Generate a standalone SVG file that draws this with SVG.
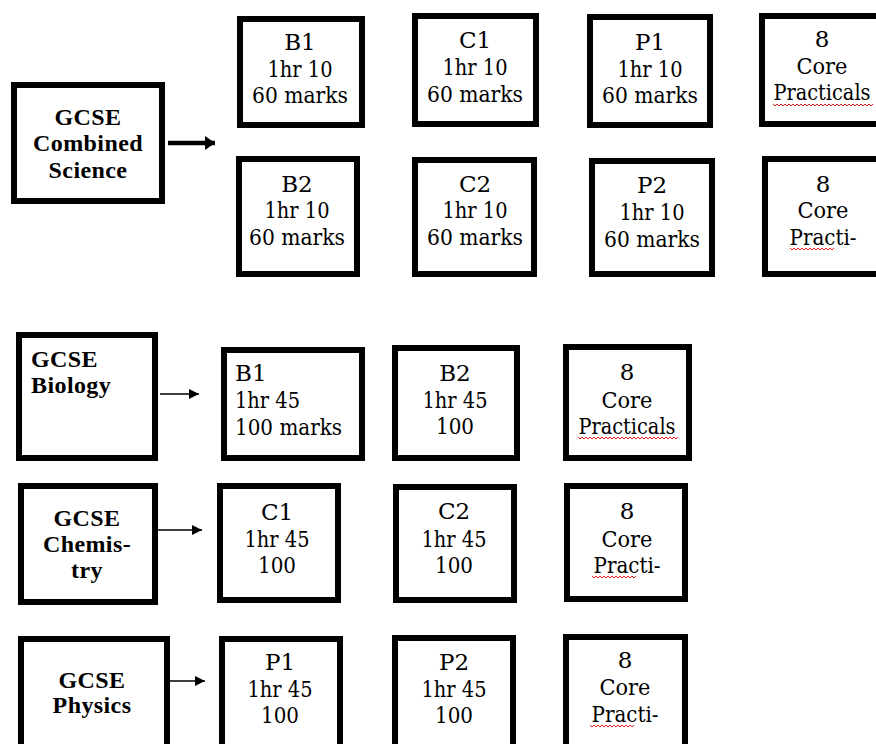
<svg xmlns="http://www.w3.org/2000/svg" width="876" height="744" viewBox="0 0 876 744">
<style>
.box{fill:#fff;stroke:#000;stroke-width:6}
.t{font-family:'DejaVu Serif','Liberation Serif',serif;font-size:23px;text-anchor:middle}
.b{font-family:'Liberation Serif','DejaVu Serif',serif;font-size:24px;font-weight:bold;text-anchor:middle;letter-spacing:0.4px}
.l{text-anchor:start}
.sq{fill:none;stroke:#e02020;stroke-width:1}
.con{stroke:#000;fill:none}
</style>
<defs>
<marker id="ah" viewBox="0 0 10 10" refX="10" refY="5" markerWidth="10" markerHeight="10" markerUnits="userSpaceOnUse" orient="auto"><path d="M0,0 L10,5 L0,10 Z" fill="#000"/></marker>
<marker id="ahb" viewBox="0 0 10 14" refX="10" refY="7" markerWidth="10" markerHeight="14" markerUnits="userSpaceOnUse" orient="auto"><path d="M0,0 L10,7 L0,14 Z" fill="#000"/></marker>
</defs>
<rect width="876" height="744" fill="#fff"/>

<g id="connectors">
<line class="con" x1="168" y1="143" x2="215" y2="143" stroke-width="4.5" marker-end="url(#ahb)"/>
<line class="con" x1="160" y1="394" x2="199" y2="394" stroke-width="1.5" marker-end="url(#ah)"/>
<line class="con" x1="158" y1="530" x2="202" y2="530" stroke-width="1.5" marker-end="url(#ah)"/>
<line class="con" x1="167" y1="681" x2="205" y2="681" stroke-width="1.5" marker-end="url(#ah)"/>
</g>

<g id="combined">
<rect class="box" x="14" y="85" width="148" height="116"/>
<text class="b" x="88" y="125">GCSE</text>
<text class="b" x="88" y="151">Combined</text>
<text class="b" x="88" y="178">Science</text>
</g>

<g id="cs-b1">
<rect class="box" x="240" y="19" width="122" height="106"/>
<text class="t" x="300" y="50">B1</text>
<text class="t" x="300" y="77" textLength="65" lengthAdjust="spacingAndGlyphs">1hr 10</text>
<text class="t" x="300" y="103" textLength="96" lengthAdjust="spacingAndGlyphs">60 marks</text>
</g>
<g id="cs-c1">
<rect class="box" x="415" y="16" width="121" height="108"/>
<text class="t" x="475" y="48">C1</text>
<text class="t" x="475" y="75" textLength="65" lengthAdjust="spacingAndGlyphs">1hr 10</text>
<text class="t" x="475" y="102" textLength="96" lengthAdjust="spacingAndGlyphs">60 marks</text>
</g>
<g id="cs-p1">
<rect class="box" x="590" y="17" width="120" height="108"/>
<text class="t" x="650" y="50">P1</text>
<text class="t" x="650" y="77" textLength="65" lengthAdjust="spacingAndGlyphs">1hr 10</text>
<text class="t" x="650" y="103" textLength="96" lengthAdjust="spacingAndGlyphs">60 marks</text>
</g>
<g id="cs-cp1">
<rect class="box" x="762" y="16" width="130" height="108"/>
<text class="t" x="822" y="47">8</text>
<text class="t" x="822" y="74" textLength="51" lengthAdjust="spacingAndGlyphs">Core</text>
<text class="t" x="822" y="100" textLength="97" lengthAdjust="spacingAndGlyphs">Practicals</text>
<path class="sq" d="M773,104 l2,2 l2,-2 l2,2 l2,-2 l2,2 l2,-2 l2,2 l2,-2 l2,2 l2,-2 l2,2 l2,-2 l2,2 l2,-2 l2,2 l2,-2 l2,2 l2,-2 l2,2 l2,-2 l2,2 l2,-2 l2,2 l2,-2 l2,2 l2,-2 l2,2 l2,-2 l2,2 l2,-2 l2,2 l2,-2 l2,2 l2,-2 l2,2 l2,-2 l2,2 l2,-2 l2,2 l2,-2 l2,2 l2,-2 l2,2 l2,-2 l2,2 l2,-2 l2,2 l2,-2 l2,2 l2,-2"/>
</g>

<g id="cs-b2">
<rect class="box" x="239" y="159" width="118" height="115"/>
<text class="t" x="297" y="192">B2</text>
<text class="t" x="297" y="218" textLength="65" lengthAdjust="spacingAndGlyphs">1hr 10</text>
<text class="t" x="297" y="245" textLength="96" lengthAdjust="spacingAndGlyphs">60 marks</text>
</g>
<g id="cs-c2">
<rect class="box" x="415" y="160" width="119" height="114"/>
<text class="t" x="475" y="192">C2</text>
<text class="t" x="475" y="218" textLength="65" lengthAdjust="spacingAndGlyphs">1hr 10</text>
<text class="t" x="475" y="245" textLength="96" lengthAdjust="spacingAndGlyphs">60 marks</text>
</g>
<g id="cs-p2">
<rect class="box" x="592" y="161" width="120" height="113"/>
<text class="t" x="652" y="193">P2</text>
<text class="t" x="652" y="220" textLength="65" lengthAdjust="spacingAndGlyphs">1hr 10</text>
<text class="t" x="652" y="247" textLength="96" lengthAdjust="spacingAndGlyphs">60 marks</text>
</g>
<g id="cs-cp2">
<rect class="box" x="765" y="159" width="130" height="115"/>
<text class="t" x="823" y="192">8</text>
<text class="t" x="823" y="218" textLength="51" lengthAdjust="spacingAndGlyphs">Core</text>
<text class="t" x="823" y="245" textLength="67" lengthAdjust="spacingAndGlyphs">Practi-</text>
<path class="sq" d="M790,248 l2,2 l2,-2 l2,2 l2,-2 l2,2 l2,-2 l2,2 l2,-2 l2,2 l2,-2 l2,2 l2,-2 l2,2 l2,-2 l2,2 l2,-2 l2,2 l2,-2 l2,2 l2,-2 l2,2 l2,-2"/>
</g>

<g id="biology">
<rect class="box" x="19" y="335" width="136" height="123"/>
<text class="b l" x="31" y="367">GCSE</text>
<text class="b l" x="31" y="393">Biology</text>
</g>
<g id="bio-b1">
<rect class="box" x="224" y="350" width="138" height="108"/>
<text class="t l" x="235" y="381">B1</text>
<text class="t l" x="235" y="408" textLength="65" lengthAdjust="spacingAndGlyphs">1hr 45</text>
<text class="t l" x="235" y="435" textLength="107" lengthAdjust="spacingAndGlyphs">100 marks</text>
</g>
<g id="bio-b2">
<rect class="box" x="395" y="348" width="122" height="110"/>
<text class="t" x="455" y="381">B2</text>
<text class="t" x="455" y="408" textLength="65" lengthAdjust="spacingAndGlyphs">1hr 45</text>
<text class="t" x="455" y="434" textLength="38" lengthAdjust="spacingAndGlyphs">100</text>
</g>
<g id="bio-cp">
<rect class="box" x="566" y="347" width="123" height="111"/>
<text class="t" x="627" y="380">8</text>
<text class="t" x="627" y="408" textLength="51" lengthAdjust="spacingAndGlyphs">Core</text>
<text class="t" x="627" y="434" textLength="97" lengthAdjust="spacingAndGlyphs">Practicals</text>
<path class="sq" d="M578,437 l2,2 l2,-2 l2,2 l2,-2 l2,2 l2,-2 l2,2 l2,-2 l2,2 l2,-2 l2,2 l2,-2 l2,2 l2,-2 l2,2 l2,-2 l2,2 l2,-2 l2,2 l2,-2 l2,2 l2,-2 l2,2 l2,-2 l2,2 l2,-2 l2,2 l2,-2 l2,2 l2,-2 l2,2 l2,-2 l2,2 l2,-2 l2,2 l2,-2 l2,2 l2,-2 l2,2 l2,-2 l2,2 l2,-2 l2,2 l2,-2 l2,2 l2,-2 l2,2 l2,-2 l2,2 l2,-2"/>
</g>

<g id="chemistry">
<rect class="box" x="21" y="486" width="134" height="116"/>
<text class="b" x="87" y="526">GCSE</text>
<text class="b" x="87" y="552">Chemis-</text>
<text class="b" x="87" y="578">try</text>
</g>
<g id="chem-c1">
<rect class="box" x="220" y="486" width="118" height="114"/>
<text class="t" x="277" y="520">C1</text>
<text class="t" x="277" y="547" textLength="65" lengthAdjust="spacingAndGlyphs">1hr 45</text>
<text class="t" x="277" y="573" textLength="38" lengthAdjust="spacingAndGlyphs">100</text>
</g>
<g id="chem-c2">
<rect class="box" x="396" y="487" width="118" height="113"/>
<text class="t" x="454" y="519">C2</text>
<text class="t" x="454" y="547" textLength="65" lengthAdjust="spacingAndGlyphs">1hr 45</text>
<text class="t" x="454" y="573" textLength="38" lengthAdjust="spacingAndGlyphs">100</text>
</g>
<g id="chem-cp">
<rect class="box" x="567" y="486" width="118" height="113"/>
<text class="t" x="627" y="519">8</text>
<text class="t" x="627" y="547" textLength="51" lengthAdjust="spacingAndGlyphs">Core</text>
<text class="t" x="627" y="573" textLength="67" lengthAdjust="spacingAndGlyphs">Practi-</text>
<path class="sq" d="M592,576 l2,2 l2,-2 l2,2 l2,-2 l2,2 l2,-2 l2,2 l2,-2 l2,2 l2,-2 l2,2 l2,-2 l2,2 l2,-2 l2,2 l2,-2 l2,2 l2,-2 l2,2 l2,-2 l2,2 l2,-2"/>
</g>

<g id="physics">
<rect class="box" x="21" y="639" width="146" height="120"/>
<text class="b" x="92" y="688">GCSE</text>
<text class="b" x="92" y="713">Physics</text>
</g>
<g id="phys-p1">
<rect class="box" x="222" y="639" width="118" height="120"/>
<text class="t" x="280" y="670">P1</text>
<text class="t" x="280" y="697" textLength="65" lengthAdjust="spacingAndGlyphs">1hr 45</text>
<text class="t" x="280" y="723" textLength="38" lengthAdjust="spacingAndGlyphs">100</text>
</g>
<g id="phys-p2">
<rect class="box" x="395" y="638" width="118" height="120"/>
<text class="t" x="454" y="670">P2</text>
<text class="t" x="454" y="697" textLength="65" lengthAdjust="spacingAndGlyphs">1hr 45</text>
<text class="t" x="454" y="723" textLength="38" lengthAdjust="spacingAndGlyphs">100</text>
</g>
<g id="phys-cp">
<rect class="box" x="566" y="637" width="119" height="120"/>
<text class="t" x="625" y="668">8</text>
<text class="t" x="625" y="695" textLength="51" lengthAdjust="spacingAndGlyphs">Core</text>
<text class="t" x="625" y="722" textLength="67" lengthAdjust="spacingAndGlyphs">Practi-</text>
<path class="sq" d="M590,725 l2,2 l2,-2 l2,2 l2,-2 l2,2 l2,-2 l2,2 l2,-2 l2,2 l2,-2 l2,2 l2,-2 l2,2 l2,-2 l2,2 l2,-2 l2,2 l2,-2 l2,2 l2,-2 l2,2 l2,-2"/>
</g>
</svg>
